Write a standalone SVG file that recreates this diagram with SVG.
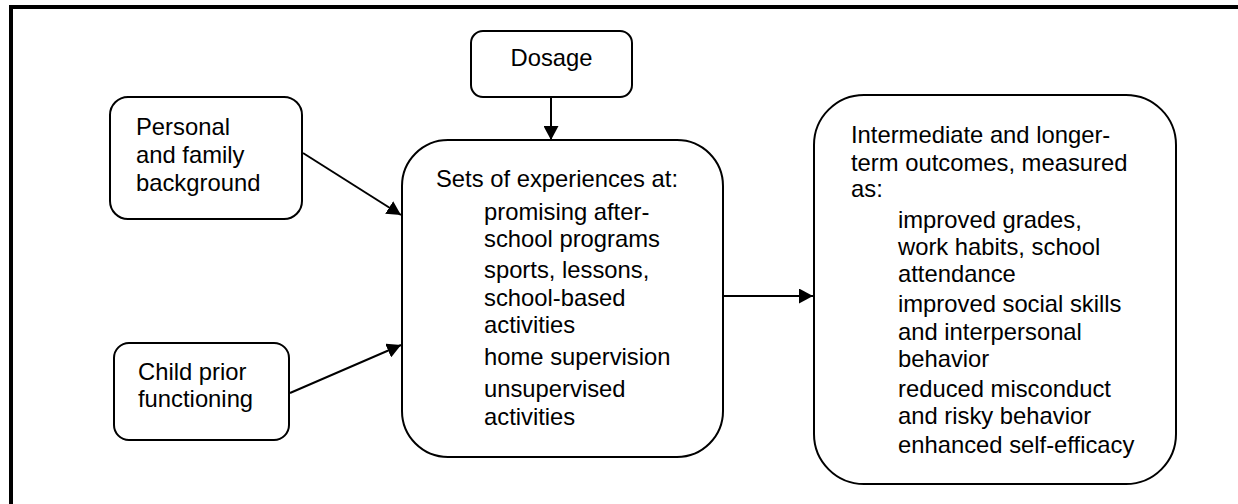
<svg xmlns="http://www.w3.org/2000/svg" width="1238" height="504" viewBox="0 0 1238 504">
<defs>
<marker id="arr" viewBox="0 0 14 15" refX="14" refY="7.5" markerWidth="14" markerHeight="15" markerUnits="userSpaceOnUse" orient="auto">
<path d="M0,0 L14,7.5 L0,15 Z" fill="#000"/>
</marker>
</defs>
<style>
.box{fill:#fff;stroke:#000;stroke-width:2}
.t{font-family:"Liberation Sans",Arial,sans-serif;font-size:23.8px;fill:#000}
.c{stroke:#000;stroke-width:2;fill:none;marker-end:url(#arr)}
</style>
<rect width="1238" height="504" fill="#fff"/>
<g id="frame">
<line x1="9" y1="7" x2="1238" y2="7" stroke="#000" stroke-width="4"/>
<line x1="11" y1="5" x2="11" y2="504" stroke="#000" stroke-width="4"/>
</g>
<g id="connectors">
<line class="c" x1="303" y1="153" x2="401" y2="215"/>
<line class="c" x1="290" y1="393" x2="401" y2="345"/>
<line class="c" x1="551" y1="97" x2="551" y2="140"/>
<line class="c" x1="723" y1="296" x2="813" y2="296"/>
</g>
<g id="personal">
<rect class="box" x="110" y="97" width="192" height="122" rx="18"/>
<text class="t" x="136" y="135">Personal</text>
<text class="t" x="136" y="163">and family</text>
<text class="t" x="136" y="191">background</text>
</g>
<g id="child">
<rect class="box" x="114" y="343" width="175" height="97" rx="15"/>
<text class="t" x="138" y="380">Child prior</text>
<text class="t" x="138" y="407">functioning</text>
</g>
<g id="dosage">
<rect class="box" x="471" y="31" width="161" height="66" rx="12"/>
<text class="t" x="551.5" y="66" text-anchor="middle">Dosage</text>
</g>
<g id="experiences">
<rect class="box" x="402" y="140" width="321" height="317" rx="46"/>
<text class="t" x="436" y="187">Sets of experiences at:</text>
<text class="t" x="484" y="220">promising after-</text>
<text class="t" x="484" y="247">school programs</text>
<text class="t" x="484" y="278">sports, lessons,</text>
<text class="t" x="484" y="306">school-based</text>
<text class="t" x="484" y="333">activities</text>
<text class="t" x="484" y="365">home supervision</text>
<text class="t" x="484" y="397">unsupervised</text>
<text class="t" x="484" y="425">activities</text>
</g>
<g id="outcomes">
<rect class="box" x="814" y="95" width="362" height="389" rx="50"/>
<text class="t" x="851" y="143">Intermediate and longer-</text>
<text class="t" x="851" y="171">term outcomes, measured</text>
<text class="t" x="851" y="197">as:</text>
<text class="t" x="898" y="228">improved grades,</text>
<text class="t" x="898" y="255">work habits, school</text>
<text class="t" x="898" y="282">attendance</text>
<text class="t" x="898" y="312">improved social skills</text>
<text class="t" x="898" y="340">and interpersonal</text>
<text class="t" x="898" y="367">behavior</text>
<text class="t" x="898" y="397">reduced misconduct</text>
<text class="t" x="898" y="424">and risky behavior</text>
<text class="t" x="898" y="453">enhanced self-efficacy</text>
</g>
</svg>
